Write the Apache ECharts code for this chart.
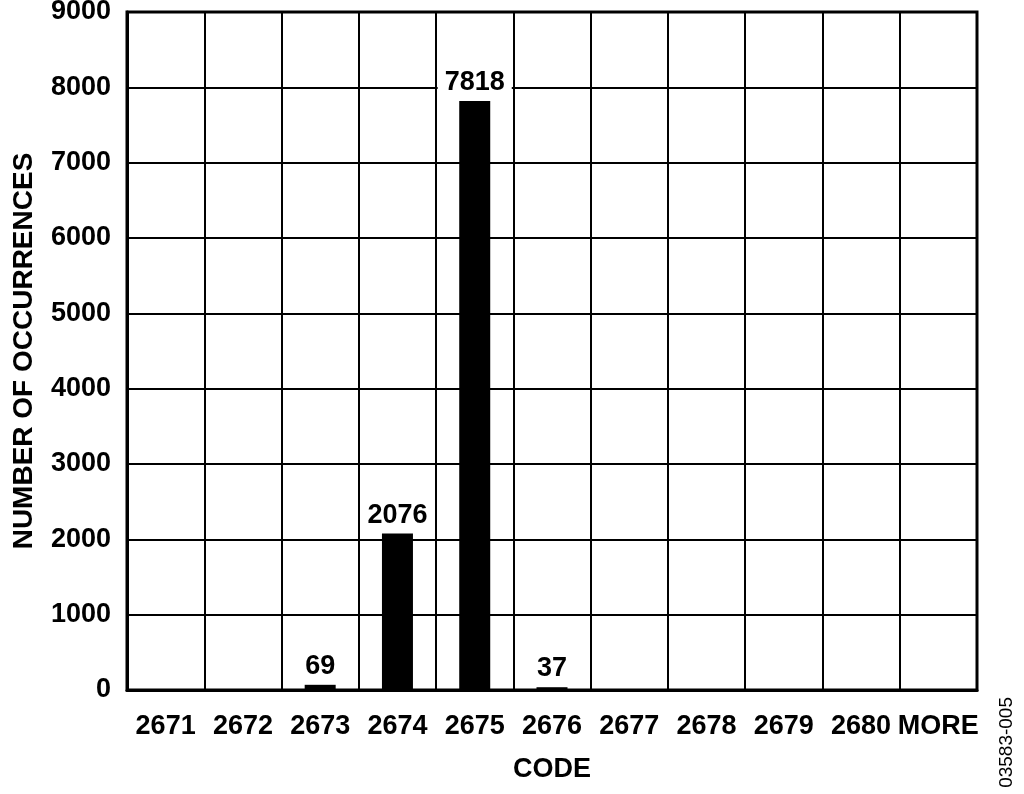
<!DOCTYPE html>
<html>
<head>
<meta charset="utf-8">
<script src="https://cdn.jsdelivr.net/npm/echarts@6/dist/echarts.min.js"></script>
<style>
  html, body { margin: 0; padding: 0; background: #fff; }
  #histChart { width: 1024px; height: 794px; }
</style>
</head>
<body>
<div id="histChart"></div>
<script>
// code histogram
const codes = ['2671', '2672', '2673', '2674', '2675', '2676', '2677', '2678', '2679', '2680', 'MORE'];
const occurrences = [0, 0, 69, 2076, 7818, 37, 0, 0, 0, 0, 0];
const yMin = 0;
const yMax = 9000;
const yStep = 1000;

const chart = echarts.init(document.getElementById('histChart'));
const font = 'Liberation Sans, Arial, sans-serif';

const option = {
  backgroundColor: '#fff',
  animation: false,
  textStyle: { fontFamily: font },
  grid: {
    left: 127,
    right: 47,
    top: 12,
    bottom: 104,
    outerBoundsMode: 'none',
    containLabel: false,
    show: true,
    borderColor: '#000',
    borderWidth: 3
  },
  xAxis: {
    type: 'category',
    data: codes,
    name: 'CODE',
    nameLocation: 'middle',
    nameGap: 66,
    nameTextStyle: { color: '#000', fontSize: 27, fontWeight: 'bold', fontFamily: font },
    axisLine: { lineStyle: { color: '#000', width: 3 } },
    axisTick: { show: false },
    axisLabel: { color: '#000', fontSize: 27, fontWeight: 'bold', margin: 23, interval: 0, fontFamily: font },
    splitLine: { show: true, interval: 0, lineStyle: { color: '#000', width: 2 } }
  },
  yAxis: {
    type: 'value',
    min: yMin,
    max: yMax,
    interval: yStep,
    name: 'NUMBER OF OCCURRENCES',
    nameLocation: 'middle',
    nameGap: 89,
    nameTextStyle: { color: '#000', fontSize: 28, fontWeight: 'bold', fontFamily: font },
    axisLine: { show: true, lineStyle: { color: '#000', width: 3 } },
    axisTick: { show: false },
    axisLabel: {
      color: '#000', fontSize: 27, fontWeight: 'bold', margin: 16, fontFamily: font,
      formatter: (v) => String(v)
    },
    splitLine: { show: true, lineStyle: { color: '#000', width: 2 } }
  },
  series: [
    {
      type: 'bar',
      data: occurrences,
      barWidth: 31,
      itemStyle: { color: '#000' },
      label: {
        show: true,
        position: 'top',
        distance: 3,
        color: '#000',
        fontSize: 27,
        fontWeight: 'bold',
        fontFamily: font,
        backgroundColor: '#fff',
        padding: [2, 7],
        formatter: (p) => (p.value ? String(p.value) : '')
      }
    }
  ],
  graphic: [
    {
      type: 'text',
      left: 997,
      top: 697,
      rotation: Math.PI / 2,
      style: { text: '03583-005', fill: '#000', font: '19px ' + font }
    }
  ]
};

chart.setOption(option);
</script>
</body>
</html>
